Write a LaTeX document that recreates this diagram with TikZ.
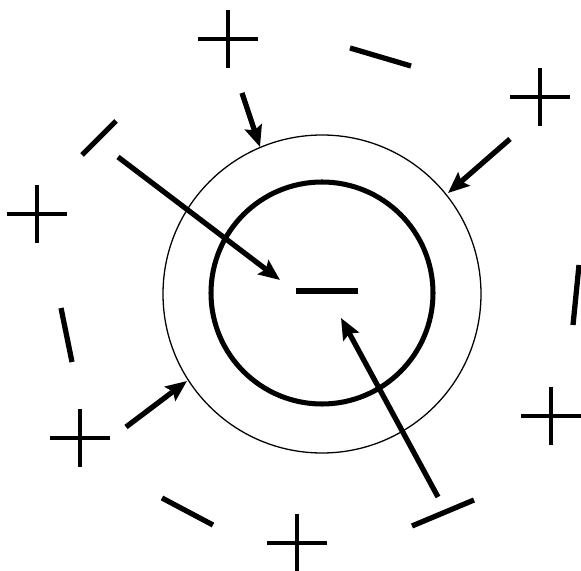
\documentclass[tikz,border=0pt]{standalone}
\usepackage{tikz}
\usetikzlibrary{arrows.meta,calc}
\tikzset{
    ring/.style={draw=black, line width=1.1pt},
    core/.style={draw=black, line width=4.3pt},
    plussign/.style={line width=3.5pt},
    minussign/.style={line width=4.5pt},
    pull/.style={line width=4.5pt, -{Stealth[length=18pt, width=15pt, inset=3pt]}},
}

\begin{document}
\begin{tikzpicture}[x=0.03cm, y=-0.03cm]
    \useasboundingbox (0,0) rectangle (581,571);
    \coordinate (ctr) at (322,294);
    \draw[ring] (ctr) circle (159);
    \draw[core] (322,293) circle (111);
    % positive charges
    \foreach \cx/\cy [count=\i] in {228/39, 540/97, 37/214, 80/438, 551/416, 297/543} {
        \coordinate (P\i) at (\cx,\cy);
        \draw[plussign] (\cx-30,\cy) -- (\cx+30,\cy) (\cx,\cy-29) -- (\cx,\cy+29);
    }
    % negative charges
    \foreach \ax/\ay/\bx/\by [count=\i] in {350/48/411/66, 82/155/116/121, 61/308/72/362,
        162/498/213/525, 412/526/474/500, 573/325/579/265, 296/291/358/291} {
        \coordinate (Ma\i) at (\ax,\ay);
        \coordinate (Mb\i) at (\bx,\by);
        \draw[minussign] (Ma\i) -- (Mb\i);
    }
    % attraction arrows
    \foreach \ax/\ay/\bx/\by [count=\i] in {242/93/260/147, 510/139/448/193, 118/157/280/280,
        126/427/187/381, 438/497/341/318} {
        \coordinate (As\i) at (\ax,\ay);
        \coordinate (At\i) at (\bx,\by);
        \draw[pull] (As\i) -- (At\i);
    }
\end{tikzpicture}
\end{document}
